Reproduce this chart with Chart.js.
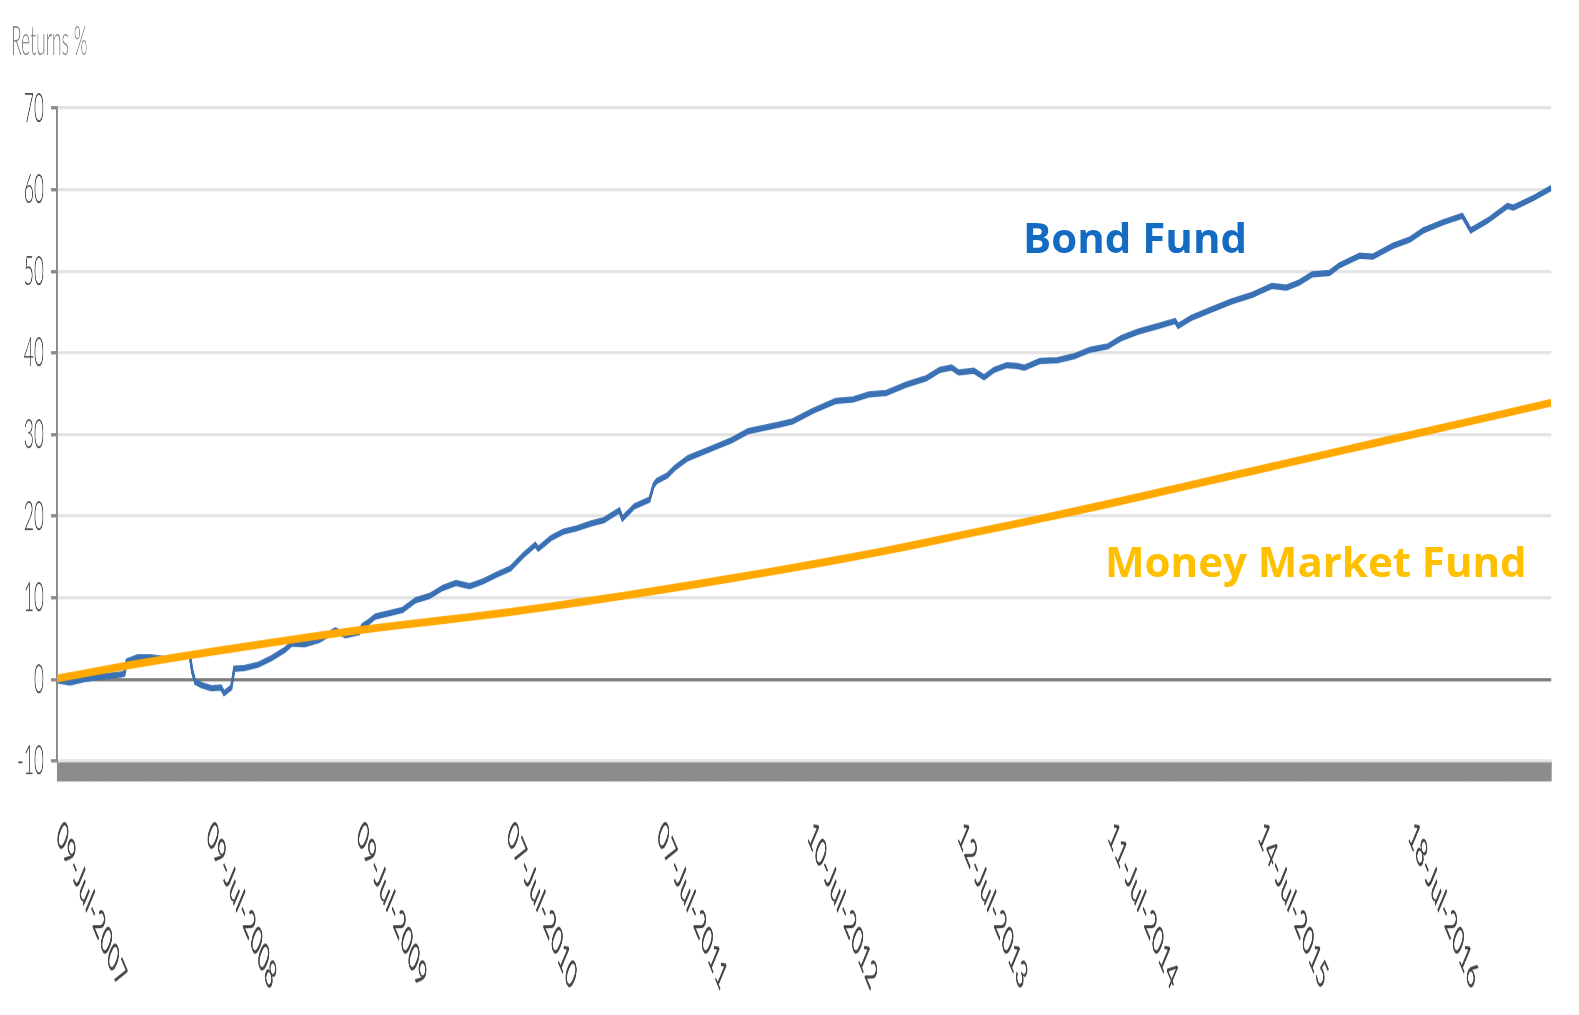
<!DOCTYPE html>
<html>
<head>
<meta charset="utf-8">
<script src="https://cdn.jsdelivr.net/npm/chart.js@4.4.1/dist/chart.umd.min.js"></script>
<style>
  html, body { margin: 0; padding: 0; background: #fff; width: 1579px; height: 1015px; overflow: hidden; }
  /* the source picture is stretched vertically, so the chart is drawn flat and scaled up */
  #wrap { position: absolute; left: 0; top: 0; width: 1579px; height: 423px; transform: scaleY(2.4); transform-origin: 0 0; }
  .note { position: absolute; font-family: 'Open Sans', Lato, sans-serif; font-weight: 700; line-height: 1; white-space: nowrap; }
  #bond { left: 1023px; top: 216px; font-size: 42px; color: #136cc2; }
  #money { left: 1105px; top: 540px; font-size: 42px; color: #ffc000; }
</style>
</head>
<body>
<div id="wrap"><canvas id="chart" width="1579" height="423"></canvas></div>
<div class="note" id="bond">Bond Fund</div>
<div class="note" id="money">Money Market Fund</div>
<script>
// trading day index since 09-Jul-2007
const bondDays = [
  0, 22, 44, 72, 106, 112, 116, 134, 156, 178,
  201, 221, 225, 230, 240, 257, 273, 278, 290, 295,
  312, 335, 357, 379, 391, 412, 436, 463, 480, 503,
  508, 520, 530, 553, 575, 597, 620, 642, 664, 687,
  709, 731, 755, 776, 796, 801, 822, 843, 865, 889,
  910, 936, 941, 961, 986, 993, 998, 1016, 1028, 1050,
  1090, 1123, 1150, 1201, 1224, 1258, 1296, 1325, 1351, 1380,
  1413, 1447, 1469, 1489, 1501, 1526, 1543, 1559, 1581, 1598,
  1610, 1636, 1665, 1693, 1720, 1749, 1771, 1799, 1833, 1861,
  1866, 1888, 1921, 1955, 1989, 2022, 2046, 2067, 2089, 2118,
  2134, 2168, 2190, 2223, 2252, 2274, 2307, 2339, 2353, 2381,
  2414, 2424, 2458, 2487
];
const bondReturns = [
  -0.1, -0.4, 0.0, 0.3, 0.6, 0.7, 2.2, 2.7, 2.7, 2.5,
  2.8, 2.9, 1.0, -0.3, -0.7, -1.1, -1.0, -1.7, -1.0, 1.3,
  1.4, 1.8, 2.6, 3.6, 4.4, 4.3, 4.8, 6.0, 5.4, 5.8,
  6.5, 7.1, 7.7, 8.1, 8.5, 9.7, 10.2, 11.2, 11.8, 11.4,
  12.0, 12.8, 13.6, 15.2, 16.5, 16.0, 17.3, 18.1, 18.5, 19.1,
  19.5, 20.7, 19.7, 21.2, 22.0, 23.8, 24.3, 25.0, 25.9, 27.1,
  28.3, 29.3, 30.4, 31.2, 31.6, 32.9, 34.1, 34.3, 34.9, 35.1,
  36.1, 36.9, 37.9, 38.2, 37.6, 37.8, 37.0, 37.9, 38.5, 38.4,
  38.2, 39.0, 39.1, 39.6, 40.4, 40.8, 41.8, 42.6, 43.3, 43.9,
  43.3, 44.3, 45.3, 46.3, 47.1, 48.2, 48.0, 48.6, 49.6, 49.8,
  50.7, 51.9, 51.8, 53.1, 53.9, 55.0, 56.0, 56.8, 55.0, 56.2,
  58.0, 57.8, 59.0, 60.2
];
const moneyDays = [0, 125, 250, 375, 500, 625, 750, 875, 1000, 1125, 1250,
  1375, 1500, 1625, 1750, 1875, 2000, 2125, 2250, 2375, 2487];
const moneyReturns = [0.1, 1.8, 3.3, 4.7, 6.0, 7.1, 8.2, 9.5, 10.9, 12.4, 14.0,
  15.7, 17.6, 19.5, 21.5, 23.6, 25.7, 27.8, 29.9, 32.0, 33.9];

const xTickDays = [0, 250, 500, 750, 1000, 1250, 1500, 1750, 2000, 2250];
const xTickLabels = ['09-Jul-2007', '09-Jul-2008', '09-Jul-2009', '07-Jul-2010', '07-Jul-2011',
  '10-Jul-2012', '12-Jul-2013', '11-Jul-2014', '14-Jul-2015', '18-Jul-2016'];
const lastDay = 2487;
const yMin = -10, yMax = 70, yStep = 10;

const FONT = 'Lato, "Open Sans", sans-serif';

const toPoints = (xs, ys) => xs.map((x, i) => ({ x: x, y: ys[i] }));

// date labels run down to the right, which chart.js can't rotate to
const extraText = {
  id: 'extraText',
  afterDraw(chart) {
    const ctx = chart.ctx;
    const xs = chart.scales.x;
    const area = chart.chartArea;
    ctx.save();
    ctx.fillStyle = '#858585';
    ctx.font = '300 17.5px ' + FONT;
    ctx.textAlign = 'left';
    ctx.textBaseline = 'alphabetic';
    ctx.fillText('Returns %', 11, 23);

    ctx.fillStyle = '#444';
    ctx.font = '400 17px ' + FONT;
    ctx.textBaseline = 'middle';
    xTickLabels.forEach((label, i) => {
      const px = xs.getPixelForValue(xTickDays[i]);
      ctx.save();
      ctx.translate(px + 2, area.bottom + 28);
      ctx.rotate(Math.PI / 4);
      ctx.fillText(label, 0, 0);
      ctx.restore();
    });
    ctx.restore();
  }
};

new Chart(document.getElementById('chart'), {
  type: 'line',
  data: {
    datasets: [
      {
        label: 'Money Market Fund',
        data: toPoints(moneyDays, moneyReturns),
        borderColor: '#ffa800',
        borderWidth: 3.3,
        tension: 0.4,
        pointRadius: 0,
        fill: false
      },
      {
        label: 'Bond Fund',
        data: toPoints(bondDays, bondReturns),
        borderColor: '#3a70b4',
        borderWidth: 2.6,
        tension: 0,
        pointRadius: 0,
        fill: false
      }
    ]
  },
  options: {
    responsive: false,
    devicePixelRatio: 2.4,
    animation: false,
    layout: { padding: { top: 45, right: 28, left: 0, bottom: 0 } },
    plugins: {
      legend: { display: false },
      tooltip: { enabled: false }
    },
    scales: {
      x: {
        type: 'linear',
        min: 0,
        max: lastDay,
        afterBuildTicks(scale) {
          const ticks = [];
          for (let d = 0; d <= lastDay; d++) ticks.push({ value: d });
          scale.ticks = ticks;
        },
        afterFit(scale) { scale.height = 106; },
        ticks: { display: false, autoSkip: false },
        border: { display: false },
        grid: {
          drawOnChartArea: false,
          drawTicks: true,
          tickLength: 8.5,
          color: '#8c8c8c',
          lineWidth: 1
        }
      },
      y: {
        min: yMin,
        max: yMax,
        afterFit(scale) { scale.width = 57; },
        ticks: {
          stepSize: yStep,
          padding: 7,
          color: '#4a4a4a',
          font: { family: FONT, size: 17.5, weight: '300' }
        },
        border: { display: true, color: '#8a8a8a', width: 1.6 },
        grid: {
          color: (c) => (c.tick && c.tick.value === 0 ? '#7d7d7d' : '#e4e4e4'),
          tickColor: '#8a8a8a',
          lineWidth: 1.4,
          tickLength: 6
        }
      }
    }
  },
  plugins: [extraText]
});
</script>
</body>
</html>
